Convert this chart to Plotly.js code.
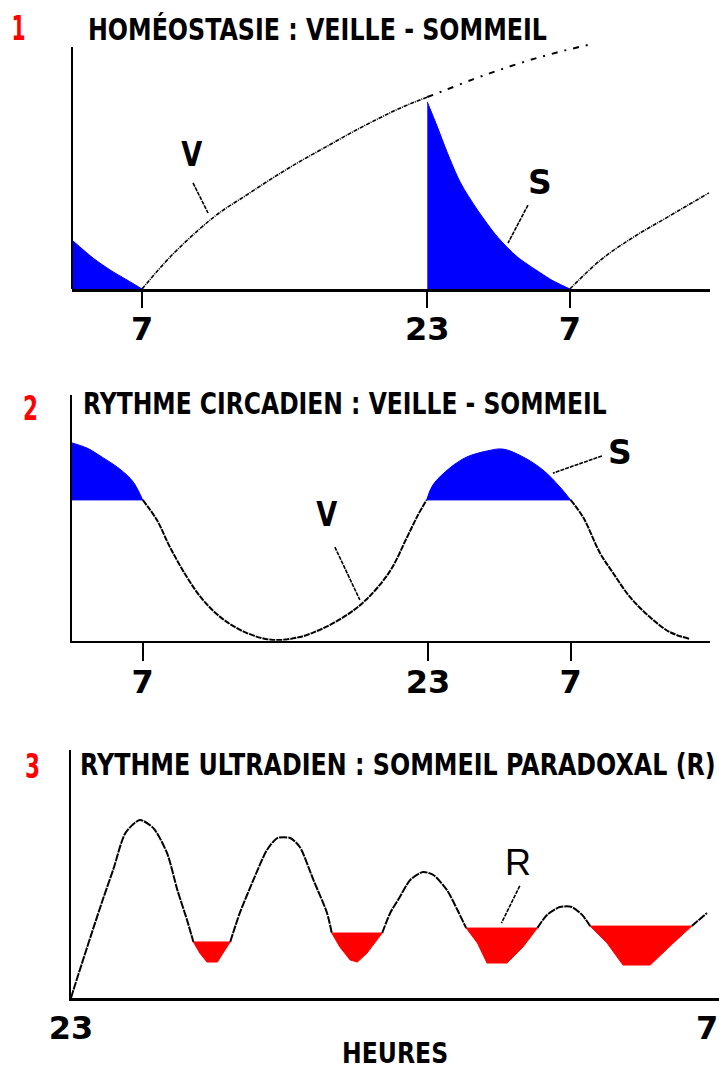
<!DOCTYPE html>
<html>
<head>
<meta charset="utf-8">
<script src="https://cdn.plot.ly/plotly-3.0.1.min.js"></script>
<style>html,body{margin:0;padding:0;background:#fff;}#chart{width:719px;height:1071px;}</style>
</head>
<body>
<div id="chart"></div>
<script>
// ---------- Panel 1 : homéostasie ----------
const wakeHours1 = [7, 8.57, 10.26, 11.38, 12.9, 14.36, 15.88, 17.39, 18.69, 20.1, 21.5, 23];
const wakeLevel1 = [0, 13.2, 25.0, 31.7, 39.0, 46.0, 52.8, 59.0, 64.4, 69.8, 74.8, 79.3];
const wakeExtHours = [23, 23.88, 25.56, 26.97, 28.59, 30.27, 32.24];
const wakeExtLevel = [79.3, 81.8, 86.6, 90.3, 94.2, 97.7, 101.2];
const sleepHoursA = [3.07, 4.25, 5.2, 6.16, 7];
const sleepLevelA = [20.2, 12.8, 7.9, 3.7, 0];
const sleepHoursB = [23, 23.57, 24.13, 24.87, 25.82, 26.94, 28.06, 29.36, 30.0, 30.6, 31];
const sleepLevelB = [77.3, 66.9, 56.2, 43.8, 32.6, 21.5, 13.2, 6.6, 3.6, 1.4, 0];
const wakeHours2 = [31, 32.73, 34.58, 36.5, 38.8];
const wakeLevel2 = [0, 12.0, 21.5, 29.8, 39.7];
const tickVals1 = [7, 23, 31];
const tickText1 = ['7', '23', '7'];

// ---------- Panel 2 : rythme circadien ----------
const circHours = [3.03, 3.88, 4.77, 5.73, 6.46, 7, 7.8, 8.53, 9.48, 10.38, 11.5, 12.85, 14.3, 15.82, 17.1, 18.46, 19.58, 20.87, 21.82, 22.43, 22.93, 23.28, 24.23, 25.19, 26.31, 27.2, 28.33, 29.45, 30.4, 31, 31.7, 32.65, 33.38, 34.33, 35.45, 36.57, 37.7];
const circLevel = [80.5, 78.4, 74.5, 69.8, 64.7, 57.3, 49.1, 38.1, 25.9, 16.6, 8.8, 3.1, 0.3, 1.5, 5.0, 10.5, 17.0, 28.3, 42.0, 51.0, 57.3, 63.4, 70.3, 74.8, 77.2, 78.0, 74.8, 69.5, 62.6, 57.3, 50.3, 35.7, 27.6, 17.8, 9.6, 3.5, 0.7];
const circSleepThreshold = 57.3;
const tickVals2 = [7, 23, 31];
const tickText2 = ['7', '23', '7'];

// ---------- Panel 3 : rythme ultradien ----------
const ultraHours = [23.0, 23.03, 23.15, 23.3, 23.4, 23.53, 23.68, 23.86, 24.03, 24.2, 24.33, 24.45, 24.53, 24.61, 24.7, 24.83, 24.9, 24.99, 25.11, 25.28, 25.45, 25.58, 25.74, 25.86, 26.03, 26.2, 26.26, 26.36, 26.49, 26.58, 26.7, 26.89, 26.99, 27.11, 27.24, 27.4, 27.53, 27.7, 27.83, 27.94, 28.08, 28.2, 28.45, 28.65, 28.83, 28.95, 29.11, 29.26, 29.39, 29.49, 29.7, 29.9, 30.24, 30.53, 30.76, 30.95];
const ultraLevel = [0, 3.2, 15.3, 30.2, 39.9, 52.0, 66.5, 71.8, 68.5, 58.5, 43.5, 31.5, 22.6, 18.1, 14.5, 14.5, 18.1, 22.6, 34.3, 47.6, 59.7, 64.5, 64.5, 60.9, 47.6, 34.3, 26.2, 20.6, 15.3, 14.5, 18.1, 26.2, 34.3, 40.7, 47.6, 50.8, 49.6, 43.5, 35.5, 28.2, 22.2, 14.1, 14.1, 20.6, 28.2, 33.5, 36.7, 36.7, 33.5, 29.0, 22.2, 13.3, 13.3, 22.2, 29.0, 34.3];
const remStart = [24.53, 26.26, 27.94, 29.49];
const remEnd = [24.99, 26.89, 28.83, 30.76];
const tickVals3 = [23, 30.95];
const tickText3 = ['23', '7'];

// ---------- helpers ----------
function runs(ts, hs, pred) {
  const out = []; let cur = null;
  for (let i = 0; i < ts.length; i++) {
    if (pred(ts[i], hs[i])) {
      if (!cur) { cur = {t: [], h: []}; out.push(cur); }
      cur.t.push(ts[i]); cur.h.push(hs[i]);
    } else cur = null;
  }
  return out;
}
const EPS = 1e-6;
const BLUE = '#0000ff', RED = '#ff0000', BLACK = '#000000';
const FONT = 'DejaVu Sans, sans-serif';

const traces = [];
// Panel 1
traces.push({x: sleepHoursA, y: sleepLevelA, xaxis: 'x', yaxis: 'y', mode: 'lines', fill: 'tozeroy', fillcolor: BLUE, line: {color: BLUE, width: 1, shape: 'spline', smoothing: 0.8}});
traces.push({x: sleepHoursB, y: sleepLevelB, xaxis: 'x', yaxis: 'y', mode: 'lines', fill: 'tozeroy', fillcolor: BLUE, line: {color: BLUE, width: 1, shape: 'spline', smoothing: 0.8}});
traces.push({x: wakeHours1, y: wakeLevel1, xaxis: 'x', yaxis: 'y', mode: 'lines', line: {color: BLACK, width: 1.6, dash: '4px,1px,1px,1px', shape: 'spline', smoothing: 1}});
traces.push({x: wakeExtHours, y: wakeExtLevel, xaxis: 'x', yaxis: 'y', mode: 'lines', line: {color: BLACK, width: 2, dash: '6px,7px,2px,7px', shape: 'spline', smoothing: 1}});
traces.push({x: wakeHours2, y: wakeLevel2, xaxis: 'x', yaxis: 'y', mode: 'lines', line: {color: BLACK, width: 1.6, dash: '4px,1px,1px,1px', shape: 'spline', smoothing: 1}});

// Panel 2
runs(circHours, circLevel, (t, h) => h <= circSleepThreshold + EPS).forEach(r => {
  traces.push({x: r.t, y: r.h, xaxis: 'x2', yaxis: 'y2', mode: 'lines', line: {color: BLACK, width: 2, dash: '6px,1px', shape: 'spline', smoothing: 1}});
});
runs(circHours, circLevel, (t, h) => h >= circSleepThreshold - EPS).forEach(r => {
  traces.push({x: r.t, y: r.t.map(() => circSleepThreshold), xaxis: 'x2', yaxis: 'y2', mode: 'lines', line: {color: BLUE, width: 1}});
  traces.push({x: r.t, y: r.h, xaxis: 'x2', yaxis: 'y2', mode: 'lines', fill: 'tonexty', fillcolor: BLUE, line: {color: BLUE, width: 1, shape: 'spline', smoothing: 1}});
});

// Panel 3
const inRem = t => remStart.some((s, i) => t > s + EPS && t < remEnd[i] - EPS);
runs(ultraHours, ultraLevel, (t) => !inRem(t)).forEach(r => {
  traces.push({x: r.t, y: r.h, xaxis: 'x3', yaxis: 'y3', mode: 'lines', line: {color: BLACK, width: 2, dash: '8px,1px', shape: 'spline', smoothing: 0.7}});
});
remStart.forEach((s, i) => {
  const r = runs(ultraHours, ultraLevel, (t) => t >= s - EPS && t <= remEnd[i] + EPS)[0];
  traces.push({x: r.t, y: r.t.map(() => r.h[0]), xaxis: 'x3', yaxis: 'y3', mode: 'lines', line: {color: RED, width: 1}});
  traces.push({x: r.t, y: r.h, xaxis: 'x3', yaxis: 'y3', mode: 'lines', fill: 'tonexty', fillcolor: RED, line: {color: RED, width: 1}});
});

// ---------- layout ----------
const W = 719, H = 1071;
const px = v => v / W, py = v => 1 - v / H;
function xax(domain, range, tv, tt, ticklen, standoff) {
  return {domain: domain, range: range, showgrid: false, zeroline: false, showline: true, linecolor: BLACK, linewidth: 2.5,
    tickmode: 'array', tickvals: tv, ticktext: tt, ticks: ticklen ? 'outside' : '', ticklen: ticklen, tickwidth: 2, tickcolor: BLACK,
    ticklabelstandoff: standoff, ticklabeloverflow: 'allow',
    tickfont: {family: FONT, size: 32, color: BLACK, weight: 'bold'}, fixedrange: true};
}
function yax(domain, range, showline) {
  return {domain: domain, range: range, showgrid: false, zeroline: false, showline: showline, linecolor: BLACK, linewidth: 2,
    showticklabels: false, ticks: '', fixedrange: true};
}
const titleFont = {family: FONT, size: 30, color: BLACK, weight: 'bold'};
const numFont = {family: FONT, size: 33, color: RED, weight: 'bold'};
function ann(text, x, y, font, xanchor, ref, align) {
  return Object.assign({text: text, x: x, y: y, showarrow: false, font: font, xanchor: xanchor || 'left', yanchor: 'middle', align: align || 'center', borderpad: 0},
    ref || {xref: 'paper', yref: 'paper'});
}
const labelFont = {family: FONT, size: 33, color: BLACK, weight: 'bold'};
const labelFontR = {family: 'Liberation Sans, Arial, sans-serif', size: 36, color: BLACK};

const ptr = {color: BLACK, width: 1.6, dash: '4px,1px'};
const layout = {
  width: W, height: H, margin: {l: 0, r: 0, t: 0, b: 0}, paper_bgcolor: '#fff', plot_bgcolor: 'rgba(0,0,0,0)', showlegend: false,
  xaxis: xax([px(72), px(710)], [3.07, 38.86], tickVals1, tickText1, 16, -6),
  yaxis: yax([py(289), py(30)], [0, 107], false),
  xaxis2: Object.assign(xax([px(71.7), px(710)], [3.02, 38.82], tickVals2, tickText2, 18, -7), {anchor: 'y2'}),
  yaxis2: Object.assign(yax([py(640.7), py(395)], [0, 100], true), {anchor: 'x2'}),
  xaxis3: Object.assign(xax([px(71), 1], [23, 31.1], tickVals3, tickText3, 0, 0), {anchor: 'y3'}),
  yaxis3: Object.assign(yax([py(998), py(750)], [0, 100], true), {anchor: 'x3'}),
  shapes: [
    {type: 'line', xref: 'x domain', yref: 'y', x0: 0, x1: 0, y0: 0, y1: 100, line: {color: BLACK, width: 2}},
    {type: 'line', xref: 'x', yref: 'y', x0: 9.86, y0: 43.8, x1: 10.70, y1: 31.4, line: ptr},
    {type: 'line', xref: 'x', yref: 'y', x0: 28.65, y0: 34.7, x1: 27.53, y1: 19.0, line: ptr},
    {type: 'line', xref: 'x2', yref: 'y2', x0: 17.78, y0: 38.1, x1: 19.18, y1: 16.6, line: ptr},
    {type: 'line', xref: 'x2', yref: 'y2', x0: 32.76, y0: 75.2, x1: 30.01, y1: 68.2, line: ptr},
    {type: 'line', xref: 'x3', yref: 'y3', x0: 28.61, y0: 45.2, x1: 28.38, y1: 30.2, line: ptr}
  ],
  annotations: [
    ann('1', px(18), py(28), numFont, 'center'),
    ann('HOMÉOSTASIE : VEILLE - SOMMEIL', px(87), py(29), titleFont, 'left', null, 'left'),
    ann('2', px(30.5), py(408), numFont, 'center'),
    ann('RYTHME CIRCADIEN : VEILLE - SOMMEIL', px(82), py(403), titleFont, 'left', null, 'left'),
    ann('3', px(32.5), py(766), numFont, 'center'),
    ann('RYTHME ULTRADIEN : SOMMEIL PARADOXAL (R)', px(79), py(764), titleFont, 'left', null, 'left'),
    ann('V', 9.8, 55.4, labelFont, 'center', {xref: 'x', yref: 'y'}),
    ann('S', 29.32, 43.8, labelFont, 'center', {xref: 'x', yref: 'y'}),
    ann('V', 17.34, 51.2, labelFont, 'center', {xref: 'x2', yref: 'y2'}),
    ann('S', 33.77, 76.8, labelFont, 'center', {xref: 'x2', yref: 'y2'}),
    ann('R', 28.59, 54.8, labelFontR, 'center', {xref: 'x3', yref: 'y3'}),
    ann('HEURES', px(395), py(1053), {family: FONT, size: 28, color: BLACK, weight: 'bold'}, 'center')
  ]
};
// horizontal compression (condensed lettering of the original), keyed by annotation index
const fitWidths = {0: 14, 1: 459, 2: 15, 3: 524, 4: 15, 5: 636, 6: 21, 8: 21, 11: 106};
function condense(t, w) {
  const natural = t.getComputedTextLength();
  if (!natural || natural <= w) return;
  const s = w / natural;
  const x0 = parseFloat(t.getAttribute('x')) || 0;
  const prev = t.getAttribute('transform') || '';
  t.setAttribute('transform', (prev + ' translate(' + (x0 * (1 - s)) + ',0) scale(' + s + ',1)').trim());
}
Plotly.newPlot('chart', traces, layout, {staticPlot: true, displayModeBar: false}).then(gd => {
  gd.querySelectorAll('g.annotation').forEach(g => {
    const w = fitWidths[+g.getAttribute('data-index')];
    const t = g.querySelector('text.annotation-text');
    if (w && t) condense(t, w);
  });
});
</script>
</body>
</html>
